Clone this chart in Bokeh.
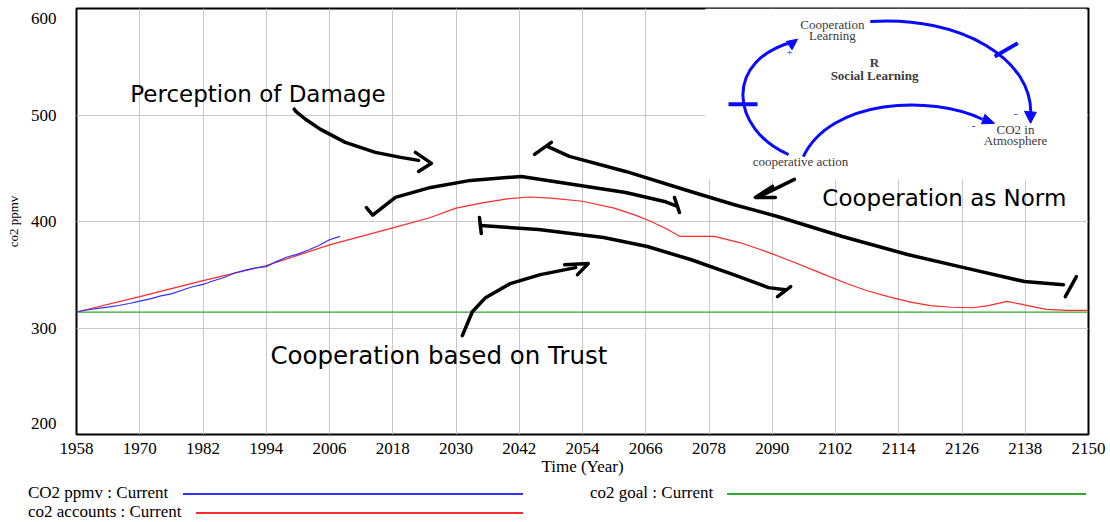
from bokeh.plotting import figure
from bokeh.models import FixedTicker, Range1d, Div
from bokeh.layouts import column
from bokeh.embed import file_html
from bokeh.resources import INLINE
from bokeh.core.properties import value

# ---------------- data ----------------
x_ticks = [1958, 1970, 1982, 1994, 2006, 2018, 2030, 2042, 2054, 2066,
           2078, 2090, 2102, 2114, 2126, 2138, 2150]
y_ticks = [200, 300, 400, 500, 600]

ppmv_years = [1958, 1960, 1962, 1964, 1966, 1968, 1970, 1972, 1974, 1976,
              1978, 1980, 1982, 1984, 1986, 1988, 1990, 1992, 1994, 1996,
              1998, 2000, 2002, 2004, 2006, 2008]
ppmv_values = [315.0, 316.9, 318.4, 319.6, 321.1, 323.0, 325.2, 327.4, 330.2, 332.1,
               335.4, 338.7, 340.9, 344.4, 347.4, 351.6, 354.4, 356.4, 357.6, 362.6,
               366.7, 369.4, 373.2, 377.5, 382.9, 386.0]

accounts_years = [1958, 1970, 1982, 1994, 2006, 2018, 2025, 2030, 2035, 2040,
                  2044, 2048, 2054, 2060, 2064, 2067, 2070, 2072.5, 2079, 2084,
                  2089, 2094, 2099, 2104, 2108, 2112, 2116, 2120, 2124, 2128,
                  2131, 2134.5, 2136, 2138, 2142, 2146, 2150]
accounts_values = [315.0, 329.5, 344.5, 358.6, 378.0, 394.0, 403.5, 412.5, 417.5, 421.5,
                   423.0, 422.0, 419.0, 412.5, 406.0, 400.0, 393.0, 386.0, 386.0, 380.0,
                   371.5, 362.0, 352.0, 342.0, 335.0, 329.5, 324.5, 321.0, 319.5, 319.0,
                   321.0, 325.0, 323.5, 321.5, 317.5, 316.5, 316.5]

goal_years = [1958, 2150]
goal_values = [315.0, 315.0]

legend_labels = ["CO2 ppmv : Current", "co2 accounts : Current", "co2 goal : Current"]

note_texts = ["Perception of Damage", "Cooperation as Norm", "Cooperation based on Trust"]
note_x = [1968.2, 2099.5, 1994.8]
note_y = [519.5, 421.6, 273.9]
note_size = ["23px", "23px", "24.5px"]

# hand-drawn annotation strokes (year, ppmv)
stroke_xs = [
    [1999.3, 1999.6, 2001.45, 2004.3, 2009.0, 2014.7, 2019.5, 2022.9],
    [2022.3, 2025.35, 2022.9],
    [2013.0, 2014.2, 2018.5, 2025.2, 2032.75, 2042.4, 2052.3, 2062.2, 2069.55, 2072.0],
    [2071.45, 2072.4],
    [2044.9, 2048.1],
    [2047.35, 2051.5, 2062.2, 2074.5, 2082.65, 2091.0, 2103.3, 2115.65, 2128.0, 2137.85, 2145.25],
    [2145.6, 2147.7],
    [2034.45, 2034.8],
    [2034.65, 2045.65, 2058.0, 2066.3, 2074.5, 2082.65, 2089.3, 2092.5],
    [2091.0, 2093.5],
    [2031.2, 2033.1, 2035.6, 2040.3, 2046.0, 2052.7],
    [2050.6, 2055.1, 2053.05],
    [2094.2, 2087.6],
    [2090.05, 2086.8, 2090.6],
]
stroke_ys = [
    [505.5, 503.5, 496.0, 486.5, 474.3, 464.9, 460.2, 457.4],
    [464.9, 454.6, 447.0],
    [413.0, 406.0, 422.6, 432.0, 438.6, 442.3, 434.8, 427.3, 418.8, 414.1],
    [422.6, 408.5],
    [463.0, 474.3],
    [470.6, 461.1, 447.0, 428.2, 416.0, 404.7, 385.9, 369.0, 354.8, 343.6, 340.7],
    [329.4, 348.3],
    [403.8, 388.7],
    [396.2, 392.5, 384.9, 376.5, 364.3, 350.1, 337.9, 336.0],
    [329.4, 338.9],
    [292.8, 315.3, 328.5, 341.7, 350.1, 356.7],
    [359.5, 360.5, 350.1],
    [439.5, 423.5],
    [432.9, 422.6, 422.6],
]

# causal-loop picture (year, ppmv)
loop_texts = ["Cooperation", "Learning", "R", "Social Learning", "CO2 in", "Atmosphere",
              "cooperative action"]
loop_tx = [2101.4, 2101.4, 2109.4, 2109.4, 2136.15, 2136.15, 2095.35]
loop_ty = [585.3, 575.0, 549.6, 537.3, 486.5, 476.1, 456.4]
loop_bold = ["normal", "normal", "bold", "bold", "normal", "normal", "normal"]
sign_texts = ["+", "-", "-"]
sign_x = [2093.3, 2136.15, 2128.2]
sign_y = [558.5, 501.6, 490.5]
arc_x0 = [2093.1, 2108.6, 2095.9]
arc_y0 = [462.8, 587.7, 460.9]
arc_x1 = [2094.4, 2139.0, 2129.9]
arc_y1 = [569.3, 497.8, 496.0]
arc_cx0 = [2082.1, 2125.7, 2101.05]
arc_cy0 = [486.5, 593.4, 514.8]
arc_cx1 = [2080.55, 2139.9, 2120.0]
arc_cy1 = [552.3, 552.3, 519.5]
head_xs = [[2094.8, 2093.75, 2092.7], [2139.0, 2137.85, 2140.1], [2132.2, 2129.7, 2130.35]]
head_ys = [[571.2, 561.2, 569.1], [492.2, 503.5, 502.5], [492.2, 491.7, 500.6]]
hash_xs = [[2081.7, 2087.2], [2132.2, 2136.6]]
hash_ys = [[510.1, 510.1], [555.0, 567.5]]

BLUE = "#3030ff"
RED = "#ff2a2a"
GREEN = "#30aa30"
LOOP = "#0a0aff"
SERIF = "Liberation Serif"

# ---------------- main figure ----------------
p = figure(width=1110, height=478, output_backend="svg", toolbar_location=None,
           x_range=Range1d(x_ticks[0], x_ticks[-1]), y_range=Range1d(y_ticks[0], y_ticks[-1]),
           min_border_left=76, min_border_right=22, min_border_top=8, min_border_bottom=42)
p.background_fill_color = "white"
p.border_fill_color = "white"
p.outline_line_color = "black"
p.outline_line_width = 2

p.xaxis.ticker = FixedTicker(ticks=x_ticks)
# the first and last y labels sit pulled inside the frame, as in the reference
lo_lab = y_ticks[0] + 10.5
hi_lab = y_ticks[-1] - 9.5
p.yaxis.ticker = FixedTicker(ticks=[lo_lab] + y_ticks[1:-1] + [hi_lab])
p.yaxis.major_label_overrides = {lo_lab: str(y_ticks[0]), hi_lab: str(y_ticks[-1])}
p.xgrid.ticker = FixedTicker(ticks=x_ticks)
p.ygrid.ticker = FixedTicker(ticks=y_ticks)
for ax in (p.xaxis[0], p.yaxis[0]):
    ax.axis_line_color = None
    ax.major_tick_line_color = None
    ax.minor_tick_line_color = None
    ax.major_label_text_font = SERIF
    ax.major_label_text_font_size = "17px"
    ax.major_label_text_color = "black"
    ax.axis_label_text_font = SERIF
    ax.axis_label_text_font_style = "normal"
    ax.axis_label_text_color = "black"
p.xaxis.axis_label = "Time (Year)"
p.xaxis.axis_label_text_font_size = "17px"
p.xaxis.major_label_standoff = 2
p.xaxis.axis_label_standoff = 0
p.yaxis.axis_label = "co2 ppmv"
p.yaxis.axis_label_text_font_size = "13px"
p.yaxis.major_label_standoff = 14
p.yaxis.axis_label_standoff = 7

p.xgrid.grid_line_color = "#c8c8c8"
p.ygrid.grid_line_color = "#c8c8c8"

# white box of the pasted loop diagram (hides the grid)
p.quad(left=[2077.3], right=[2149.6], bottom=[439.5], top=[600],
       fill_color="white", line_color=None)

p.line(goal_years, goal_values, line_color=GREEN, line_width=1.3)
p.line(accounts_years, accounts_values, line_color=RED, line_width=1.2)
p.line(ppmv_years, ppmv_values, line_color=BLUE, line_width=1.2)

p.multi_line(stroke_xs, stroke_ys, line_color="black", line_width=3.5,
             line_cap="round", line_join="round")

for t, x, y, s in zip(note_texts, note_x, note_y, note_size):
    p.text([x], [y], text=[t], text_font=value("DejaVu Sans"), text_font_size=s,
           text_baseline="middle", text_align="left", text_color="black")

# loop diagram
p.bezier(x0=arc_x0, y0=arc_y0, x1=arc_x1, y1=arc_y1, cx0=arc_cx0, cy0=arc_cy0,
         cx1=arc_cx1, cy1=arc_cy1, line_color=LOOP, line_width=3)
p.patches(head_xs, head_ys, fill_color=LOOP, line_color=LOOP, line_width=1)
p.multi_line(hash_xs, hash_ys, line_color=LOOP, line_width=4)
for t, x, y, st in zip(loop_texts, loop_tx, loop_ty, loop_bold):
    p.text([x], [y], text=[t], text_font=value(SERIF), text_font_size="13px",
           text_font_style=st, text_align="center", text_baseline="middle",
           text_color="#3a3a3a")
p.text(sign_x, sign_y, text=sign_texts, text_font=value(SERIF), text_font_size="11px",
       text_align="center", text_baseline="middle", text_color=LOOP)

# ---------------- legend strip below the chart ----------------
leg_colors = [BLUE, RED, GREEN]
leg_text_left = [28, 28, 590]
leg_line_left = [183, 196, 727]
leg_line_right = [523, 523, 1086]
leg_row = [15, 34, 15]
parts = []
for t, c, tl, l0, l1, r in zip(legend_labels, leg_colors, leg_text_left,
                               leg_line_left, leg_line_right, leg_row):
    parts.append(f'<span style="position:absolute;left:{tl}px;top:{r - 10}px;'
                 f'line-height:20px;white-space:nowrap;">{t}</span>')
    parts.append(f'<div style="position:absolute;left:{l0}px;top:{r}px;width:{l1 - l0}px;'
                 f'height:0;border-top:2px solid {c};"></div>')
html = ('<div style="position:relative;width:1110px;height:44px;margin:0;padding:0;'
        f'font-family:\'{SERIF}\';font-size:17px;color:black;">' + "".join(parts) + '</div>')
legend = Div(text=html, width=1110, height=44, styles={"margin": "0", "padding": "0"})

layout = column(p, legend, spacing=0)
open("out.html", "w").write(file_html(layout, INLINE))
